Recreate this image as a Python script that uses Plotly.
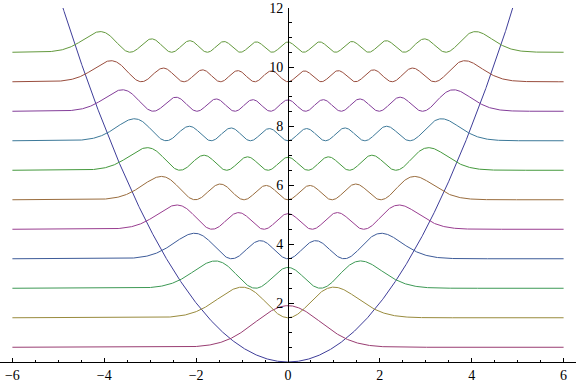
import numpy as np
import colorsys
import plotly.graph_objects as go

# ---- data ----
quantum_numbers = [0, 1, 2, 3, 4, 5, 6, 7, 8, 9, 10]
energy_levels = [0.5, 1.5, 2.5, 3.5, 4.5, 5.5, 6.5, 7.5, 8.5, 9.5, 10.5]
density_scale = 2.5
x_ticks = [-6, -4, -2, 0, 2, 4, 6]
y_ticks = [2, 4, 6, 8, 10, 12]
x_min, x_max = -6, 6

x = np.linspace(x_min, x_max, 1601)

# normalized harmonic-oscillator eigenfunctions (hbar = m = omega = 1)
psi = [np.pi ** -0.25 * np.exp(-x ** 2 / 2)]
psi.append(np.sqrt(2) * x * psi[0])
for n in range(1, max(quantum_numbers)):
    psi.append(np.sqrt(2 / (n + 1)) * x * psi[n] - np.sqrt(n / (n + 1)) * psi[n - 1])

potential = x ** 2 / 2


def mcolor(k):
    h = (0.6687 + 0.23607 * k) % 1.0
    r, g, b = colorsys.hsv_to_rgb(h, 0.6, 0.6)
    return "rgb(%d,%d,%d)" % (round(r * 255), round(g * 255), round(b * 255))


fig = go.Figure()
fig.add_trace(go.Scatter(x=x, y=potential, mode="lines",
                         line=dict(color=mcolor(0), width=1), hoverinfo="skip"))
for i, n in enumerate(quantum_numbers):
    y = energy_levels[i] + density_scale * psi[n] ** 2
    fig.add_trace(go.Scatter(x=x, y=y, mode="lines",
                             line=dict(color=mcolor(i + 1), width=1), hoverinfo="skip"))

font = dict(family="Liberation Serif, Times New Roman, serif", size=14, color="black")

fig.update_layout(
    width=576, height=383,
    margin=dict(l=0, r=0, t=8, b=21),
    paper_bgcolor="white", plot_bgcolor="white",
    showlegend=False,
    font=font,
    xaxis=dict(range=[-6.27, 6.27], showgrid=False, zeroline=False,
               showline=True, linecolor="black", linewidth=1,
               tickvals=x_ticks, ticks="inside", ticklen=4, tickcolor="black",
               minor=dict(ticks="inside", ticklen=2.5, dtick=0.5, tickcolor="black", showgrid=False),
               anchor="y", fixedrange=True),
    yaxis=dict(range=[0, 12], showgrid=False, zeroline=False,
               showline=True, linecolor="black", linewidth=1,
               anchor="free", position=6.27 / 12.54, side="left",
               tickvals=y_ticks, ticks="inside", ticklen=4.5, tickcolor="black",
               ticklabelstandoff=2,
               minor=dict(ticks="inside", ticklen=2.5, dtick=0.5, tickcolor="black", showgrid=False),
               fixedrange=True),
)

fig.write_html("out.html", config={"displayModeBar": False, "staticPlot": True},
               post_script="document.body.style.margin='0';document.body.style.padding='0';")
